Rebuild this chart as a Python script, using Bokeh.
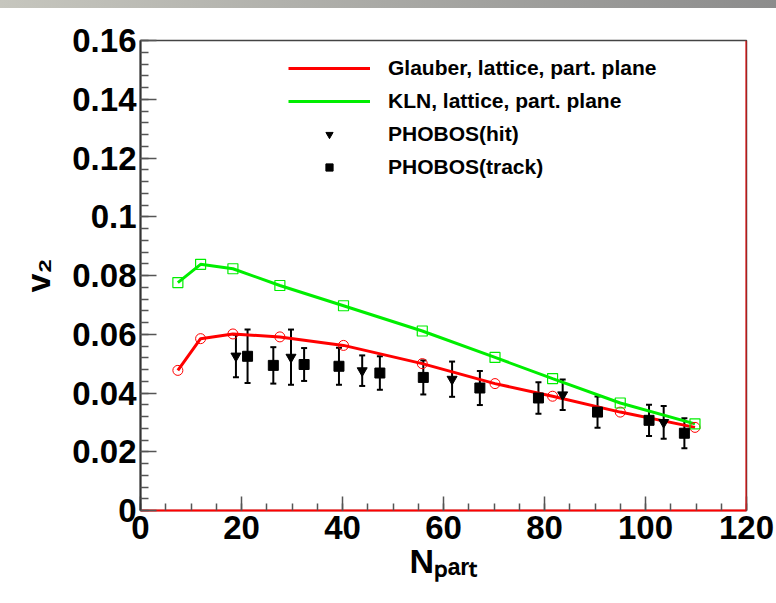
import math
from bokeh.plotting import figure
from bokeh.models import (FixedTicker, CustomJSTickFormatter, Whisker, TeeHead,
                          ColumnDataSource, Legend, LegendItem, Span, Div)
from bokeh.layouts import column
from bokeh.embed import file_html
from bokeh.resources import INLINE

# ---- data ----
npart_model = [7.4, 11.9, 18.3, 27.6, 40.2, 55.8, 70.2, 81.6, 95.0, 109.8]
v2_glauber = [0.0477, 0.0585, 0.0601, 0.0591, 0.0562, 0.0500, 0.0432, 0.0389, 0.0335, 0.0283]
v2_kln = [0.0776, 0.0838, 0.0823, 0.0766, 0.0697, 0.0611, 0.0521, 0.0449, 0.0366, 0.0295]

npart_hit = [18.9, 29.8, 43.9, 61.7, 83.6, 103.6]
v2_hit = [0.0526, 0.0522, 0.0476, 0.0447, 0.0394, 0.0300]
err_hit = [0.0072, 0.0094, 0.0052, 0.0060, 0.0052, 0.0056]

npart_track = [21.2, 26.3, 32.4, 39.3, 47.4, 56.0, 67.2, 78.8, 90.5, 100.7, 107.7]
v2_track = [0.0525, 0.0494, 0.0497, 0.0491, 0.0468, 0.0453, 0.0417, 0.0383, 0.0335, 0.0307, 0.0263]
err_track = [0.0091, 0.0062, 0.0056, 0.0063, 0.0057, 0.0058, 0.0058, 0.0054, 0.0053, 0.0053, 0.0051]

x_ticks = [0, 20, 40, 60, 80, 100, 120]
x_minor = list(range(0, 121, 5))
y_ticks = [0, 0.02, 0.04, 0.06, 0.08, 0.10, 0.12, 0.14, 0.16]
y_minor = [round(i * 0.004, 3) for i in range(41)]

label_glauber = "Glauber, lattice, part. plane"
label_kln = "KLN, lattice, part. plane"
label_hit = "PHOBOS(hit)"
label_track = "PHOBOS(track)"
x_title = "N\u209a\u2090\u1d63\u209c"
y_title = "v\u2082"

# ---- figure ----
p = figure(width=776, height=595, x_range=(0, 120), y_range=(0, 0.16),
           output_backend="svg", toolbar_location=None,
           min_border_left=140, min_border_right=30,
           min_border_top=32, min_border_bottom=93)
p.grid.visible = False
p.background_fill_color = "white"
p.border_fill_color = "white"
p.outline_line_color = "#444444"
p.outline_line_width = 1.5

font = "Liberation Sans"
for ax in (p.xaxis[0], p.yaxis[0]):
    ax.major_tick_out = 0
    ax.minor_tick_out = 0
    ax.major_label_text_font = font
    ax.major_label_text_font_style = "bold"
    ax.major_label_text_font_size = "33px"
    ax.major_label_text_color = "black"
    ax.major_tick_line_color = "#555555"
    ax.minor_tick_line_color = "#555555"
    ax.major_tick_line_width = 1.5
    ax.minor_tick_line_width = 1.5
    ax.axis_label_text_font = font
    ax.axis_label_text_font_style = "bold"
    ax.axis_label_text_color = "black"

p.xaxis.ticker = FixedTicker(ticks=x_ticks, minor_ticks=x_minor)
p.yaxis.ticker = FixedTicker(ticks=y_ticks, minor_ticks=y_minor)
p.yaxis.formatter = CustomJSTickFormatter(code=r"return tick.toFixed(2).replace(/\.?0+$/, '');")
p.xaxis.major_tick_in = 14
p.xaxis.minor_tick_in = 7
p.yaxis.major_tick_in = 16
p.yaxis.minor_tick_in = 8
p.xaxis.major_label_standoff = 5
p.yaxis.major_label_standoff = 4
p.xaxis.axis_line_color = "red"
p.xaxis.axis_line_width = 2
p.yaxis.axis_line_color = "#333333"
p.yaxis.axis_line_width = 2

p.xaxis.axis_label = x_title
p.xaxis.axis_label_text_font_size = "34px"
p.xaxis.axis_label_standoff = 0
p.yaxis.axis_label = y_title
p.yaxis.axis_label_text_font_size = "34px"
p.yaxis.axis_label_standoff = 12

p.add_layout(Span(location=120, dimension="height", line_color="red", line_width=2))

# ---- model curves ----
r_gl = p.line(npart_model, v2_glauber, line_color="#ff0000", line_width=3)
r_kl = p.line(npart_model, v2_kln, line_color="#00ee00", line_width=3)
p.scatter(npart_model, v2_glauber, marker="circle", size=10, fill_color=None,
          line_color="#ff0000", line_width=1)
p.scatter(npart_model, v2_kln, marker="square", size=10, fill_color=None,
          line_color="#00ee00", line_width=1.2)

# ---- data points ----
src_hit = ColumnDataSource(dict(x=npart_hit, y=v2_hit,
                                lo=[a - b for a, b in zip(v2_hit, err_hit)],
                                hi=[a + b for a, b in zip(v2_hit, err_hit)]))
src_track = ColumnDataSource(dict(x=npart_track, y=v2_track,
                                  lo=[a - b for a, b in zip(v2_track, err_track)],
                                  hi=[a + b for a, b in zip(v2_track, err_track)]))
for src in (src_hit, src_track):
    p.add_layout(Whisker(source=src, base="x", lower="lo", upper="hi",
                         line_color="black", line_width=2,
                         upper_head=TeeHead(size=6, line_color="black", line_width=2),
                         lower_head=TeeHead(size=6, line_color="black", line_width=2)))
r_hit = p.scatter("x", "y", source=src_hit, marker="inverted_triangle", size=10,
                  fill_color="black", line_color="black")
r_track = p.scatter("x", "y", source=src_track, marker="square", size=10,
                    fill_color="black", line_color="black")

# ---- legend ----
legend = Legend(items=[LegendItem(label=label_glauber, renderers=[r_gl]),
                       LegendItem(label=label_kln, renderers=[r_kl]),
                       LegendItem(label=label_hit, renderers=[r_hit]),
                       LegendItem(label=label_track, renderers=[r_track])],
                location=(148, 331), padding=0, margin=0, spacing=9,
                glyph_width=82, glyph_height=18, label_height=24, label_standoff=18,
                label_text_font=font, label_text_font_style="bold",
                label_text_font_size="21px", label_text_color="black",
                border_line_alpha=0, background_fill_alpha=0)
p.add_layout(legend)

strip = Div(text="", width=776, height=8, margin=0,
            styles={"background": "linear-gradient(to right, #c6c6be, #8c8c8c)"})

layout = column(strip, p, spacing=0)
open("out.html", "w").write(file_html(layout, INLINE))
